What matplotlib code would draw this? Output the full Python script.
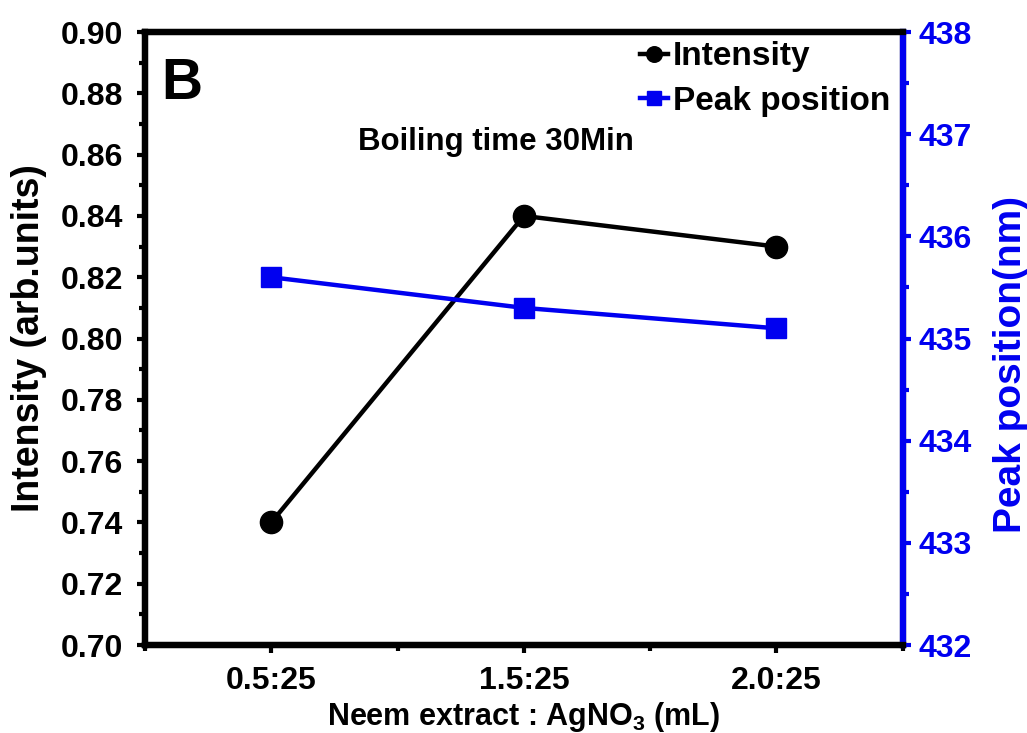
import numpy as np
import matplotlib.pyplot as plt
from matplotlib.ticker import MultipleLocator

plt.rcParams['font.family'] = ['Liberation Sans', 'DejaVu Sans']
plt.rcParams['font.weight'] = 'bold'
plt.rcParams['mathtext.fontset'] = 'custom'
plt.rcParams['mathtext.rm'] = 'Liberation Sans:bold'
plt.rcParams['mathtext.bf'] = 'Liberation Sans:bold'

ratios = ['0.5:25', '1.5:25', '2.0:25']
intensity = [0.74, 0.84, 0.83]
peak_position = [435.6, 435.3, 435.1]

BLUE = '#0000f0'
x = np.arange(1, len(ratios) + 1)

fig = plt.figure(figsize=(10.27, 7.33), dpi=100)
ax = fig.add_axes([0.1412, 0.120, 0.7378, 0.8363])
ax2 = ax.twinx()

l1, = ax.plot(x, intensity, color='black', lw=3.2, marker='o', ms=16, label='Intensity')
l2, = ax2.plot(x, peak_position, color=BLUE, lw=3.2, marker='s', ms=15, label='Peak position')

ax.set_xlim(0.5, 3.5)
ax.set_ylim(0.70, 0.90)
ax2.set_ylim(432, 438)

ax.set_xticks(x)
ax.set_xticklabels(ratios)
ax.xaxis.set_minor_locator(MultipleLocator(0.5))
ax.yaxis.set_major_locator(MultipleLocator(0.02))
ax.yaxis.set_minor_locator(MultipleLocator(0.01))
ax.yaxis.set_major_formatter(plt.FormatStrFormatter('%.2f'))
ax2.yaxis.set_major_locator(MultipleLocator(1))
ax2.yaxis.set_minor_locator(MultipleLocator(0.5))

for a in (ax, ax2):
    for s in a.spines.values():
        s.set_linewidth(4.5)
ax2.spines['right'].set_color(BLUE)

ax.tick_params(which='major', length=6, width=3, labelsize=23, pad=10)
ax.tick_params(which='minor', length=4, width=3)
ax.tick_params(axis='x', which='major', pad=9)
ax.tick_params(axis='y', which='both', right=False)
ax2.tick_params(which='major', length=6, width=3, labelsize=23, colors=BLUE, pad=5)
ax2.tick_params(which='minor', length=4, width=3, colors=BLUE)

ax.set_ylabel('Intensity (arb.units)', fontsize=27, fontweight='bold')
ax.yaxis.set_label_coords(-0.130, 0.5)
ax.set_xlabel('Neem extract : AgNO$_\\mathbf{3}$ (mL)', fontsize=22, fontweight='bold', labelpad=3)
ax2.set_ylabel('Peak position(nm)', fontsize=28, fontweight='bold', color=BLUE)
ax2.yaxis.set_label_coords(1.119, 0.457)

ax.text(0.022, 0.96, 'B', transform=ax.transAxes, fontsize=41, fontweight='bold', va='top', ha='left')
ax.text(0.281, 0.8206, 'Boiling time 30Min', transform=ax.transAxes, fontsize=22.5, fontweight='bold',
        va='center', ha='left')

ax.legend([l1, l2], ['Intensity', 'Peak position'], loc='upper left', frameon=False,
          fontsize=24, handlelength=0.85, handletextpad=0.15, markerscale=0.7,
          borderpad=0, borderaxespad=0, labelspacing=0.4, bbox_to_anchor=(0.653, 0.985))

fig.savefig('out.png', dpi=100)
